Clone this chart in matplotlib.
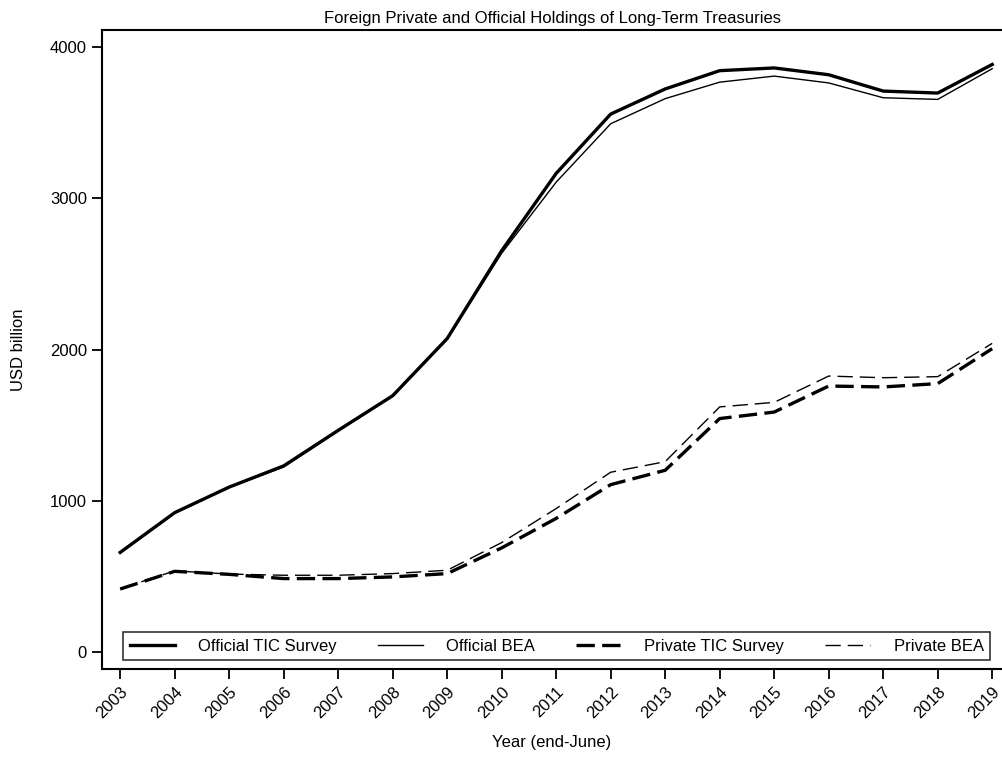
import matplotlib
matplotlib.use("Agg")
import matplotlib.pyplot as plt

plt.rcParams['font.family'] = ['Liberation Sans', 'DejaVu Sans']

years = list(range(2003, 2020))
official_tic = [660, 923, 1092, 1232, 1467, 1696, 2074, 2655, 3166, 3558, 3724, 3845, 3863, 3818, 3710, 3697, 3886]
official_bea = [658, 920, 1090, 1225, 1462, 1693, 2070, 2638, 3108, 3494, 3660, 3769, 3809, 3764, 3666, 3655, 3858]
private_tic = [418, 535, 515, 487, 487, 498, 520, 690, 885, 1108, 1203, 1545, 1588, 1760, 1754, 1776, 2007]
private_bea = [420, 538, 517, 509, 509, 520, 542, 725, 950, 1190, 1260, 1622, 1652, 1826, 1815, 1822, 2042]

fig = plt.figure(figsize=(10.02, 7.57), dpi=100)
ax = fig.add_axes([0.102, 0.116, 0.898, 0.844])

ax.plot(years, official_tic, color='black', lw=2.4, label='Official TIC Survey')
ax.plot(years, official_bea, color='black', lw=1.0, label='Official BEA')
ax.plot(years, private_tic, color='black', lw=2.4, linestyle=(0, (5.5, 2.2)), label='Private TIC Survey')
ax.plot(years, private_bea, color='black', lw=1.0, linestyle=(0, (11, 5)), label='Private BEA')

ax.set_xlim(2002.67, 2019.18)
ax.set_ylim(-112, 4112)
ax.set_xticks(years)
ax.set_xticklabels([str(y) for y in years], rotation=45, ha='right', rotation_mode='anchor')
ax.set_yticks([0, 1000, 2000, 3000, 4000])

ax.spines['right'].set_visible(False)
for s in ['left', 'top', 'bottom']:
    ax.spines[s].set_linewidth(1.5)
ax.tick_params(axis='both', length=7, width=1.3, labelsize=12, pad=4)

ax.set_title('Foreign Private and Official Holdings of Long-Term Treasuries', fontsize=12, pad=5)
ax.set_xlabel('Year (end-June)', fontsize=12, labelpad=10)
ax.set_ylabel('USD billion', fontsize=12, labelpad=17)

leg = ax.legend(loc='lower left', bbox_to_anchor=(0.023, 0.014, 0.964, 0.063), mode='expand',
                ncol=4, fontsize=12, frameon=True, fancybox=False, handlelength=2.7,
                borderaxespad=0, handletextpad=1.4)
leg.get_frame().set_edgecolor('black')
leg.get_frame().set_linewidth(1.2)

fig.savefig('out.png', dpi=100)
